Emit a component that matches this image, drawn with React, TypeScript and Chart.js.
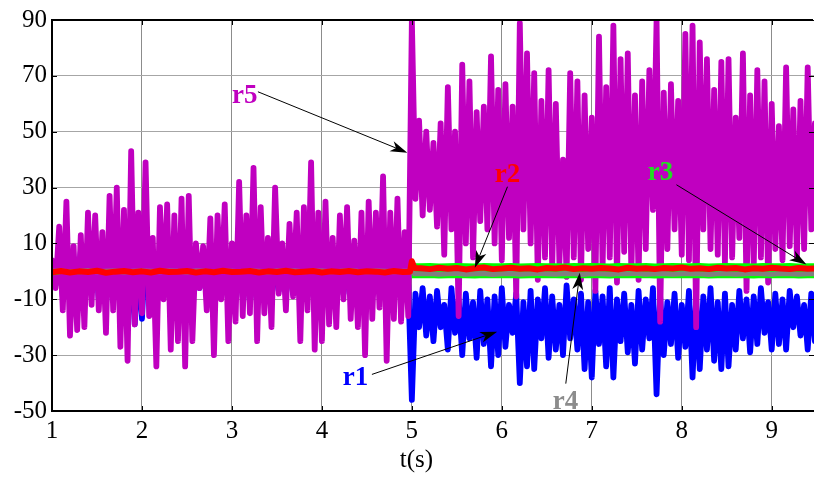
import React, { useEffect, useRef } from "react";
import { Chart, registerables } from "chart.js";

Chart.register(...registerables);

// ---- sampling of the r1 / r5 signals ----
const T0 = 1.0;  // first sample time (s)
const DT = 0.04; // sample period (s)

const X_MIN = 1;
const X_MAX = 9.47;
const Y_MIN = -50;
const Y_MAX = 90;
const X_TICKS = [1, 2, 3, 4, 5, 6, 7, 8, 9];
const Y_TICKS = [-50, -30, -10, 10, 30, 50, 70, 90];
const X_TITLE = "t(s)";
const X_TITLE_AT = 5.05;

// r5 (magenta)
const R5 = [
  4, -6, 16, -14, 25, -23, 9, -21, 13, -20,
  21, -12, 20, -14, 14, -22, 27, -14, 30, -27,
  22, -32, 43, -19, 21, -15, 39, -16, 12, -34,
  23, -10, 24, -28, 20, -25, 26, -34, 27, -25,
  10, -6, 9, -14, 19, -30, 20, -10, 24, -25,
  10, -18, 32, -16, 20, -15, 37, -25, 23, -15,
  12, -20, 30, -8, 10, -14, 17, -9, 21, -25,
  23, -14, 39, -28, 21, -25, 25, -19, 12, -20,
  20, -10, 23, -17, 11, -20, 21, -30, 25, -17,
  21, -13, 34, -32, 21, -17, 26, -18, 14, -16,
  90, 26, 54, 20, 50, 22, 46, 16, 53, 6,
  66, 15, 50, -16, 74, 10, 68, 5, 57, 18,
  59, 15, 77, 10, 65, 4, 67, 12, 59, -9,
  89, 15, 78, 10, 71, -3, 61, 5, 72, 1,
  60, 3, 40, -2, 71, 5, 68, -3, 63, 8,
  55, -7, 84, 1, 66, 5, 88, -4, 76, 7,
  78, -1, 63, -3, 68, 8, 72, 22, 90, -18,
  64, 8, 67, 15, 61, 6, 85, 4, 88, -20,
  82, 15, 76, 8, 65, 6, 75, 3, 76, 5,
  55, 12, 78, -7, 63, 1, 72, 5, 68, -4,
  60, 8, 52, 4, 73, 9, 58, 5, 61, 8,
  73, 15, 53,
];

// r1 (blue)
const R1 = [
  2, -5, 8, -9, 6, -10, 5, -8, 7, -11,
  6, -7, 9, -10, 5, -12, 8, -9, 7, -13,
  6, -20, 8, -19, 5, -17, 9, -10, 6, -12,
  7, -8, 5, -11, 8, -9, 6, -12, 7, -10,
  5, -6, 6, -9, 7, -11, 5, -8, 8, -12,
  6, -10, 7, -9, 5, -11, 8, -12, 6, -9,
  5, -10, 7, -7, 6, -9, 8, -8, 6, -12,
  7, -9, 9, -13, 6, -11, 8, -10, 5, -12,
  7, -8, 6, -10, 5, -11, 7, -13, 8, -9,
  6, -8, 10, -14, 7, -10, 9, -11, 6, -5,
  -46, -8, -20, -6, -23, -9, -25, -7, -20, -12,
  -28, -6, -22, -10, -30, -8, -24, -11, -31, -7,
  -26, -10, -34, -9, -30, -6, -27, -12, -22, -8,
  -40, -11, -34, -7, -35, -10, -24, -6, -31, -9,
  -28, -12, -30, -5, -24, -10, -28, -8, -35, -11,
  -38, -7, -26, -9, -34, -6, -38, -10, -25, -8,
  -29, -12, -33, -7, -28, -10, -24, -6, -44, -9,
  -30, -11, -26, -8, -31, -12, -27, -7, -38, -10,
  -35, -9, -28, -6, -32, -11, -35, -8, -34, -12,
  -28, -7, -24, -10, -29, -9, -26, -6, -22, -11,
  -28, -8, -26, -10, -28, -7, -20, -9, -23, -12,
  -28, -8, -25,
];

// sample times of r2 / r3 / r4
const BAND_T = [
  1.0, 1.1, 1.2, 1.3, 1.4, 1.5, 1.6, 1.7, 1.8, 1.9,
  2.0, 2.1, 2.2, 2.3, 2.4, 2.5, 2.6, 2.7, 2.8, 2.9,
  3.0, 3.1, 3.2, 3.3, 3.4, 3.5, 3.6, 3.7, 3.8, 3.9,
  4.0, 4.1, 4.2, 4.3, 4.4, 4.5, 4.6, 4.7, 4.8, 4.9,
  4.98, 5.0, 5.03,
  5.1, 5.2, 5.3, 5.4, 5.5, 5.6, 5.7, 5.8, 5.9, 6.0,
  6.1, 6.2, 6.3, 6.4, 6.5, 6.6, 6.7, 6.8, 6.9, 7.0,
  7.1, 7.2, 7.3, 7.4, 7.5, 7.6, 7.7, 7.8, 7.9, 8.0,
  8.1, 8.2, 8.3, 8.4, 8.5, 8.6, 8.7, 8.8, 8.9, 9.0,
  9.1, 9.2, 9.3, 9.4, 9.5,
];

// r2 (red)
const R2 = [
  -0.3, 0.1, -0.4, 0, -0.2, 0.2, -0.5, -0.1, 0.1, -0.3,
  0, -0.4, 0.2, -0.2, -0.1, 0.1, -0.4, 0, -0.3, 0.2,
  -0.2, -0.1, 0.1, -0.4, 0, -0.2, 0.2, -0.3, -0.1, 0.1,
  -0.4, 0, -0.2, 0.1, -0.3, 0, -0.1, -0.4, 0.1, -0.2,
  -0.1, 3.6, 1.2,
  1.1, 0.8, 1.3, 0.9, 1.2, 0.7, 1.1, 1.4, 0.8, 1.0,
  1.3, 0.9, 1.1, 0.7, 1.2, 1.0, 1.4, 0.8, 1.1, 0.9,
  1.2, 1.0, 0.7, 1.3, 0.9, 1.1, 0.8, 1.2, 1.0, 1.4,
  0.9, 1.1, 0.8, 1.3, 1.0, 1.2, 0.7, 1.1, 0.9, 1.3,
  1.0, 0.8, 1.2, 0.9, 1.1,
];

// r3 (green)
const R3 = [
  -1.0, -0.4, -0.2, -0.5, -0.3, -0.1, -0.4, -0.2, -0.3, -0.5,
  -0.2, -0.3, -0.1, -0.4, -0.3, -0.2, -0.4, -0.1, -0.3, -0.2,
  -0.4, -0.2, -0.3, -0.1, -0.3, -0.4, -0.2, -0.3, -0.1, -0.2,
  -0.3, -0.4, -0.2, -0.3, -0.1, -0.3, -0.2, -0.4, -0.3, -0.2,
  -0.2, 0.2, 0.2,
  0.2, 0.3, 0.1, 0.2, 0.3, 0.2, 0.1, 0.3, 0.2, 0.2,
  0.3, 0.1, 0.2, 0.3, 0.2, 0.2, 0.1, 0.3, 0.2, 0.3,
  0.2, 0.1, 0.3, 0.2, 0.2, 0.3, 0.1, 0.2, 0.3, 0.2,
  0.2, 0.3, 0.1, 0.2, 0.3, 0.2, 0.2, 0.1, 0.3, 0.2,
  0.2, 0.3, 0.1, 0.2, 0.2,
];

// r4 (gray)
const R4 = [
  0, 0.1, -0.1, 0, 0.2, -0.1, 0, 0.1, -0.2, 0,
  0.1, 0, -0.1, 0.1, 0, -0.2, 0.1, 0, -0.1, 0.1,
  0, -0.1, 0.1, 0, -0.2, 0.1, 0, 0.1, -0.1, 0,
  0.1, -0.1, 0, 0.2, 0, -0.1, 0.1, 0, -0.1, 0,
  0, 0, -0.9,
  -0.9, -0.8, -1.0, -0.9, -0.7, -1.0, -0.9, -0.8, -1.1, -0.9,
  -0.8, -1.0, -0.9, -0.7, -0.9, -1.0, -0.8, -0.9, -1.1, -0.8,
  -0.9, -1.0, -0.8, -0.9, -0.7, -1.0, -0.9, -0.8, -1.0, -0.9,
  -0.8, -0.9, -1.1, -0.9, -0.8, -1.0, -0.9, -0.7, -0.9, -1.0,
  -0.8, -0.9, -1.0, -0.9, -0.8,
];

// annotation labels with arrows (data coordinates)
const NOTES = [
  { text: "r5", color: "#C000C0", tx: 3.0, ty: 60.3, x0: 3.289, y0: 64.3, x1: 4.95, y1: 42.5 },
  { text: "r2", color: "#FF0000", tx: 5.922, ty: 32.1, x0: 6.063, y0: 30.3, x1: 5.7, y1: 1.3 },
  { text: "r3", color: "#22DD22", tx: 7.622, ty: 32.8, x0: 7.941, y0: 31.0, x1: 9.386, y1: 2.5 },
  { text: "r1", color: "#0000FF", tx: 4.233, ty: -40.8, x0: 4.556, y0: -36.9, x1: 5.948, y1: -21.6 },
  { text: "r4", color: "#8C8C8C", tx: 6.567, ty: -49.3, x0: 6.711, y0: -40.2, x1: 6.867, y1: -0.5 },
];

const FONT_FAMILY = "'Liberation Serif', 'Times New Roman', serif";

const uniformPoints = (vals: number[], t0: number, dt: number) =>
  vals.map((v, i) => ({ x: +(t0 + i * dt).toFixed(4), y: v }));
const timedPoints = (ts: number[], vals: number[]) =>
  vals.map((v, i) => ({ x: ts[i], y: v }));

const overlayPlugin = {
  id: "overlay",
  afterDatasetsDraw(chart: any) {
    const { ctx, chartArea: a, scales } = chart;
    const xs = scales.x;
    const ys = scales.y;
    ctx.save();
    // frame (top, left, bottom)
    ctx.strokeStyle = "#000";
    ctx.lineWidth = 2;
    ctx.beginPath();
    ctx.moveTo(a.right - 1, a.top);
    ctx.lineTo(a.left, a.top);
    ctx.lineTo(a.left, a.bottom);
    ctx.lineTo(a.right, a.bottom);
    ctx.stroke();
    // inner ticks
    ctx.lineWidth = 1;
    ctx.beginPath();
    X_TICKS.forEach((v) => {
      const px = Math.round(xs.getPixelForValue(v)) + 0.5;
      ctx.moveTo(px, a.top);
      ctx.lineTo(px, a.top + 5);
      ctx.moveTo(px, a.bottom);
      ctx.lineTo(px, a.bottom - 5);
    });
    Y_TICKS.forEach((v) => {
      const py = Math.round(ys.getPixelForValue(v)) + 0.5;
      ctx.moveTo(a.left, py);
      ctx.lineTo(a.left + 5, py);
      ctx.moveTo(a.right, py);
      ctx.lineTo(a.right - 5, py);
    });
    ctx.stroke();

    // annotations
    NOTES.forEach((n) => {
      const sx = xs.getPixelForValue(n.x0);
      const sy = ys.getPixelForValue(n.y0);
      const ex = xs.getPixelForValue(n.x1);
      const ey = ys.getPixelForValue(n.y1);
      const dx = ex - sx;
      const dy = ey - sy;
      const len = Math.hypot(dx, dy);
      const ux = dx / len;
      const uy = dy / len;
      const nx = -uy;
      const ny = ux;
      const L = 17;
      const W = 5.5;
      const bx = ex - ux * L;
      const by = ey - uy * L;
      const mx = ex - ux * L * 0.72;
      const my = ey - uy * L * 0.72;
      ctx.strokeStyle = "#000";
      ctx.lineWidth = 1;
      ctx.beginPath();
      ctx.moveTo(sx, sy);
      ctx.lineTo(mx, my);
      ctx.stroke();
      ctx.fillStyle = "#000";
      ctx.beginPath();
      ctx.moveTo(ex, ey);
      ctx.lineTo(bx + nx * W, by + ny * W);
      ctx.lineTo(mx, my);
      ctx.lineTo(bx - nx * W, by - ny * W);
      ctx.closePath();
      ctx.fill();

      ctx.fillStyle = n.color;
      ctx.font = `bold 27px ${FONT_FAMILY}`;
      ctx.textAlign = "left";
      ctx.textBaseline = "alphabetic";
      ctx.fillText(n.text, xs.getPixelForValue(n.tx), ys.getPixelForValue(n.ty));
    });

    // x-axis title
    ctx.fillStyle = "#000";
    ctx.font = `25px ${FONT_FAMILY}`;
    ctx.textAlign = "center";
    ctx.textBaseline = "alphabetic";
    ctx.fillText(X_TITLE, xs.getPixelForValue(X_TITLE_AT), 467);
    ctx.restore();
  },
};

export default function App() {
  const ref = useRef<HTMLCanvasElement>(null);

  useEffect(() => {
    document.body.style.margin = "0";
    const canvas = ref.current;
    if (!canvas) return;
    const tickFont = { family: FONT_FAMILY, size: 25 };
    const chart = new Chart(canvas, {
      type: "line",
      data: {
        datasets: [
          {
            label: "r2",
            data: timedPoints(BAND_T, R2),
            borderColor: "#FF0000",
            borderWidth: 6,
            borderJoinStyle: "round",
            borderCapStyle: "round",
            pointRadius: 0,
            tension: 0,
            order: 0,
          },
          {
            label: "r4",
            data: timedPoints(BAND_T, R4),
            borderColor: "#808080",
            borderWidth: 5,
            borderJoinStyle: "round",
            pointRadius: 0,
            tension: 0,
            order: 1,
          },
          {
            label: "r3",
            data: timedPoints(BAND_T, R3),
            borderColor: "#00FF00",
            borderWidth: 15,
            pointRadius: 0,
            tension: 0,
            order: 2,
            segment: {
              borderWidth: (c: any) => (c.p0.parsed.x >= 4.999 ? 15 : 3),
            },
          },
          {
            label: "r5",
            data: uniformPoints(R5, T0, DT),
            borderColor: "#C000C0",
            borderWidth: 5.8,
            borderJoinStyle: "round",
            borderCapStyle: "round",
            pointRadius: 0,
            tension: 0,
            order: 3,
          },
          {
            label: "r1",
            data: uniformPoints(R1, T0, DT),
            borderColor: "#0000FF",
            borderWidth: 5.8,
            borderJoinStyle: "round",
            borderCapStyle: "round",
            pointRadius: 0,
            tension: 0,
            order: 4,
          },
        ] as any,
      },
      options: {
        responsive: false,
        animation: false,
        devicePixelRatio: 1,
        layout: { padding: { top: 17, right: 1, bottom: 0, left: 0 } },
        plugins: {
          legend: { display: false },
          tooltip: { enabled: false },
        },
        events: [],
        scales: {
          x: {
            type: "linear",
            min: X_MIN,
            max: X_MAX,
            afterBuildTicks: (s: any) => {
              s.ticks = X_TICKS.map((v) => ({ value: v }));
            },
            afterFit: (s: any) => {
              s.height = 66;
            },
            ticks: {
              font: tickFont,
              color: "#000",
              padding: 5,
              maxRotation: 0,
              autoSkip: false,
              callback: (v: any) => String(v),
            },
            grid: { color: "#8c8c8c", lineWidth: 1, drawTicks: false },
            border: { display: false },
          },
          y: {
            type: "linear",
            min: Y_MIN,
            max: Y_MAX,
            afterBuildTicks: (s: any) => {
              s.ticks = Y_TICKS.map((v) => ({ value: v }));
            },
            afterFit: (s: any) => {
              s.width = 52;
            },
            ticks: {
              font: tickFont,
              color: "#000",
              padding: 5,
              autoSkip: false,
              callback: (v: any) => String(v),
            },
            grid: { color: "#a6a6a6", lineWidth: 1, drawTicks: false },
            border: { display: false },
          },
        },
      },
      plugins: [overlayPlugin],
    });
    return () => chart.destroy();
  }, []);

  return (
    <div style={{ width: 815, height: 477 }}>
      <canvas
        ref={ref}
        width={815}
        height={477}
        style={{ display: "block", width: "815px", height: "477px" }}
      />
    </div>
  );
}
